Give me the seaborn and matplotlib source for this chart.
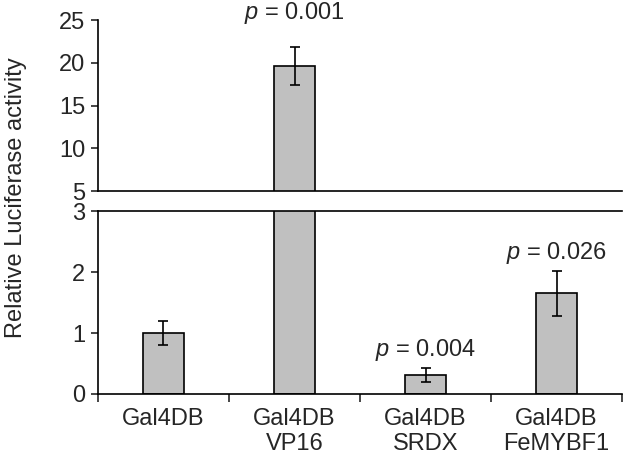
import matplotlib
matplotlib.use("Agg")
import matplotlib.pyplot as plt
import seaborn as sns
import numpy as np

# data
categories = ["Gal4DB", "Gal4DB\nVP16", "Gal4DB\nSRDX", "Gal4DB\nFeMYBF1"]
activity = [1.0, 19.6, 0.31, 1.65]
errors = [0.2, 2.2, 0.11, 0.37]
p_labels = [None, "0.001", "0.004", "0.026"]

BAR_COLOR = "#c0c0c0"
FS = 17

sns.set_style("white")
plt.rcParams["font.family"] = ["Liberation Sans", "DejaVu Sans"]
plt.rcParams["mathtext.fontset"] = "custom"
plt.rcParams["mathtext.it"] = "Liberation Sans:italic"
plt.rcParams["mathtext.rm"] = "Liberation Sans"


def draw_bars(ax):
    sns.barplot(x=categories, y=activity, ax=ax, color=BAR_COLOR,
                edgecolor="black", linewidth=1.2, width=0.31, saturation=1)
    ax.errorbar(range(len(categories)), activity, yerr=errors, fmt="none",
                ecolor="black", elinewidth=1.2, capsize=3.5, capthick=1.2)
    ax.set_xlim(-0.5, len(categories) - 0.5)


fig = plt.figure(figsize=(6.24, 4.57), dpi=100)
ax_top = fig.add_axes([0.157, 0.582, 0.84, 0.374])
ax_bot = fig.add_axes([0.157, 0.138, 0.84, 0.400])

draw_bars(ax_top)
draw_bars(ax_bot)

ax_top.set_ylim(5, 25)
ax_top.set_yticks([5, 10, 15, 20, 25])
ax_bot.set_ylim(0, 3)
ax_bot.set_yticks([0, 1, 2, 3])

for ax in (ax_top, ax_bot):
    for s in ax.spines.values():
        s.set_linewidth(1.2)
        s.set_color("black")
    ax.spines["right"].set_visible(False)
    ax.tick_params(axis="y", direction="out", length=5, width=1.2,
                   labelsize=FS, left=True, pad=4)
    ax.set_ylabel("")

ax_top.spines["top"].set_visible(False)
ax_top.set_xticks([])
ax_top.tick_params(axis="x", bottom=False, labelbottom=False)

# category boundaries as ticks, labels centred under bars
ax_bot.set_xticks(range(len(categories)))
ax_bot.set_xticklabels(categories, fontsize=FS, linespacing=1.2,
                       va="top")
ax_bot.set_xticks(np.arange(-0.5, len(categories), 1.0), minor=True)
ax_bot.tick_params(axis="x", which="major", length=0, pad=10)
ax_bot.tick_params(axis="x", which="minor", direction="out", length=6,
                   width=1.2, bottom=True)

# p-value annotations
ax_top.text(1, 25.1, r"$p$ = " + p_labels[1], ha="center", va="baseline",
            fontsize=FS, clip_on=False)
ax_bot.text(2, 0.72, r"$p$ = " + p_labels[2], ha="center", va="center",
            fontsize=FS)
ax_bot.text(3, 2.31, r"$p$ = " + p_labels[3], ha="center", va="center",
            fontsize=FS)

fig.text(0.026, 0.567, "Relative Luciferase activity", rotation=90,
         ha="center", va="center", fontsize=FS)

fig.savefig("out.png", dpi=100)
